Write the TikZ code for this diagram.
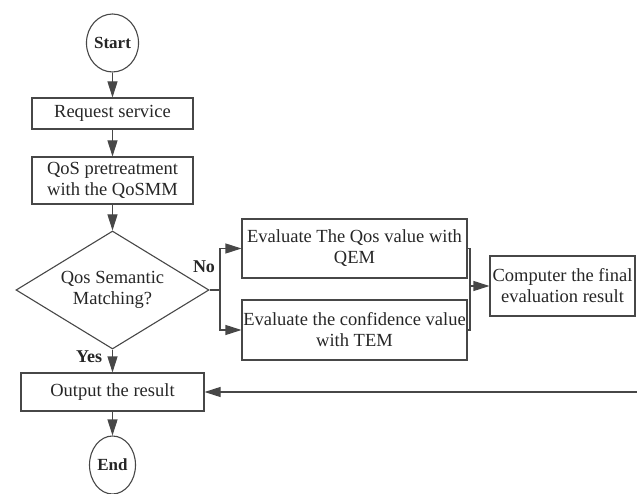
\documentclass[tikz,border=0pt]{standalone}
\usepackage{fontspec}
\setmainfont{Liberation Serif}
\usetikzlibrary{shapes,arrows.meta}

\begin{document}
\begin{tikzpicture}[->,>={Triangle[length=16pt,width=10pt]},
    x=1pt, y=-1pt,
    color=black!72,
    line width=1.1pt,
    every node/.style={text=black!85,
                       font=\fontsize{18.5}{21}\selectfont},
    box/.style={rectangle,
                draw,
                align=center,
                inner sep=0pt},
    term/.style={ellipse,
                 draw,
                 inner sep=0pt,
                 minimum width=46pt,
                 minimum height=58pt,
                 font=\fontsize{17}{20}\selectfont\bfseries},
    lbl/.style={font=\fontsize{18}{21}\selectfont\bfseries}]

    \useasboundingbox (0,0) rectangle (637,494);

    \node[term] (Start) at (112.5,43) {Start};

    \node[box,
          minimum width = 161pt,
          minimum height = 31pt] (Req) at (112.5,113.5) {Request service};

    \node[box,
          minimum width = 161pt,
          minimum height = 47pt] (Pre) at (112.5,180.5) {QoS pretreatment\\with the QoSMM};

    \node[diamond,
          draw,
          align=center,
          inner sep=0pt,
          aspect=1.64,
          minimum width = 193pt,
          minimum height = 118pt] (Match) at (112.5,290) {Qos Semantic\\Matching?};

    \node[box,
          minimum width = 225pt,
          minimum height = 59pt] (QEM) at (354.5,248.5) {Evaluate The Qos value with\\QEM};

    \node[box,
          minimum width = 225pt,
          minimum height = 60pt] (TEM) at (354.5,330) {Evaluate the confidence value\\with TEM};

    \node[box,
          minimum width = 145pt,
          minimum height = 60pt] (Final) at (562.5,286) {Computer the final\\evaluation result};

    \node[box,
          minimum width = 183pt,
          minimum height = 38pt] (Out) at (112.5,392) {Output the result};

    \node[term] (End) at (112.5,465) {End};

    \node[lbl] (No) at (204,267) {No};
    \node[lbl] (Yes) at (89,357) {Yes};

    \coordinate (Split) at (220,290);
    \coordinate (Join) at (470,286);
    \coordinate (Back) at (637,392);

    % main line
    \draw (Start) -- (Req);
    \draw (Req) -- (Pre);
    \draw (Pre) -- (Match);
    \draw (Match) -- (Out);
    \draw (Out) -- (End);

    % the two evaluations
    \draw[-] (Match.east) -- (Split);
    \draw (Split) |- (QEM.west);
    \draw (Split) |- (TEM.west);
    \draw[-] (QEM.east) -| (Join);
    \draw[-] (TEM.east) -| (Join);
    \draw (Join) -- (Final.west);

    \draw (Back) -- (Out.east);

\end{tikzpicture}
\end{document}
